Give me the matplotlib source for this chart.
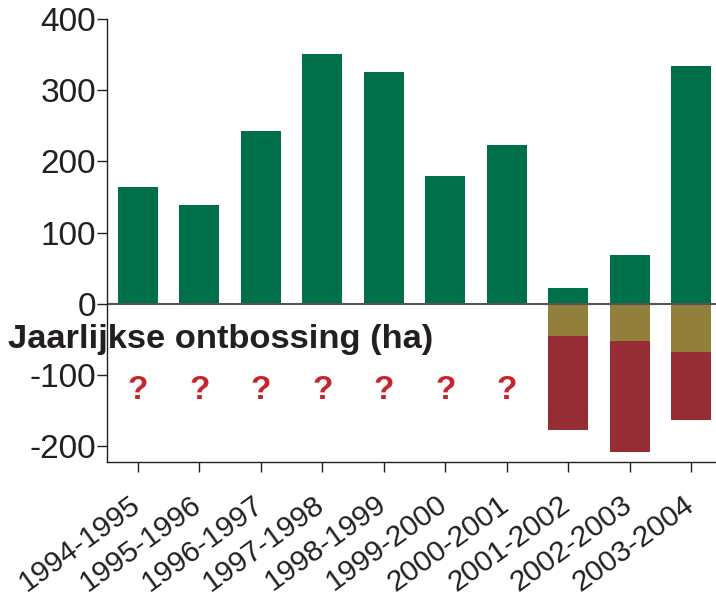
import matplotlib
matplotlib.use("Agg")
import matplotlib.pyplot as plt
from matplotlib.transforms import ScaledTranslation

periods = ["1994-1995", "1995-1996", "1996-1997", "1997-1998", "1998-1999",
           "1999-2000", "2000-2001", "2001-2002", "2002-2003", "2003-2004"]
growth = [164, 139, 243, 351, 326, 180, 223, 22, 69, 334]
loss_olive = [0, 0, 0, 0, 0, 0, 0, -46, -53, -68]
loss_red = [0, 0, 0, 0, 0, 0, 0, -131, -156, -96]
unknown = [True, True, True, True, True, True, True, False, False, False]
yticks = [-200, -100, 0, 100, 200, 300, 400]

plt.rcParams['font.family'] = ['Liberation Sans', 'DejaVu Sans']

fig = plt.figure(figsize=(7.16, 5.97), dpi=100)
ax = fig.add_axes([0.149, 0.226, 0.851, 0.742])

x = list(range(len(periods)))
w = 0.65
ax.bar(x, growth, width=w, color="#00704A")
ax.bar(x, loss_olive, width=w, color="#917F3B")
ax.bar(x, loss_red, width=w, bottom=loss_olive, color="#962D34")

ax.axhline(0, color="#555555", lw=1.5)

for i, u in zip(x, unknown):
    if u:
        ax.text(i, -122, "?", color="#C8242E", fontsize=24, fontweight="bold",
                ha="center", va="center")

fig.text(8 / 716, 1 - 340 / 597, "Jaarlijkse ontbossing (ha)", fontsize=24.8,
         fontweight="bold", ha="left", va="center", color="#231F20")

ax.set_xlim(-0.504, 9.4)
ax.set_ylim(-222.5, 400)
ax.set_yticks(yticks)
ax.set_yticklabels([str(v) for v in yticks], fontsize=24, color="#231F20")
ax.set_xticks(x)
ax.set_xticklabels([])
lab_trans = ax.get_xaxis_transform() + ScaledTranslation(-9 / 100, -28 / 100,
                                                         fig.dpi_scale_trans)
for i, lab in zip(x, periods):
    ax.text(i, 0, lab, transform=lab_trans, rotation=36, ha="right", va="top",
            rotation_mode="anchor", fontsize=21.5, color="#231F20", clip_on=False)
ax.tick_params(axis="both", direction="out", length=7, width=1, color="#231F20")
ax.tick_params(axis="y", pad=0.5)
for s in ["top", "right"]:
    ax.spines[s].set_visible(False)
for s in ["left", "bottom"]:
    ax.spines[s].set_color("#231F20")
    ax.spines[s].set_linewidth(1)

fig.savefig("out.png", dpi=100)
